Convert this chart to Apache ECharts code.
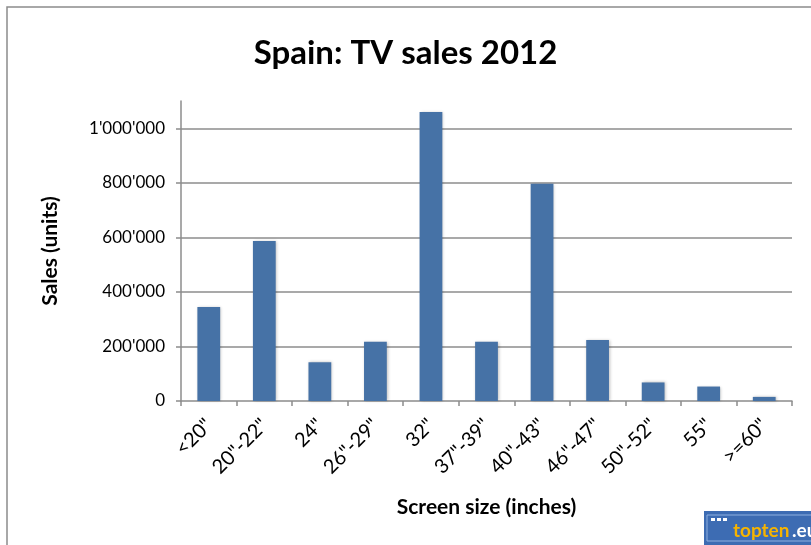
<!DOCTYPE html>
<html>
<head>
<meta charset="utf-8">
<script src="https://cdn.jsdelivr.net/npm/echarts@6/dist/echarts.min.js"></script>
<style>html,body{margin:0;padding:0;background:#fff}#c{width:811px;height:545px}</style>
</head>
<body>
<div id="c"></div>
<script>
const titleText = "Spain: TV sales 2012";
const categories = ['<20"', '20"-22"', '24"', '26"-29"', '32"', '37"-39"', '40"-43"', '46"-47"', '50"-52"', '55"', '>=60"'];
const sales = [345000, 587000, 142000, 217000, 1060000, 217000, 797000, 224000, 68000, 53000, 15000];
const yTicks = [0, 200000, 400000, 600000, 800000, 1000000];
const yName = "Sales (units)";
const xName = "Screen size (inches)";

function fmt(v) {
  return String(Math.round(v)).replace(/\B(?=(\d{3})+(?!\d))/g, "'");
}

const FONT = 'Lato, "Open Sans", sans-serif';
const chart = echarts.init(document.getElementById('c'), null, {renderer: 'canvas'});
chart.setOption({
  backgroundColor: '#fff',
  animation: false,
  title: {
    text: titleText, left: 'center', top: 32,
    textStyle: {fontFamily: FONT, fontSize: 33, fontWeight: 'bold', color: '#000'}
  },
  grid: {left: 181, right: 19, top: 101, bottom: 144, containLabel: false},
  xAxis: {
    type: 'category', data: categories,
    axisLine: {lineStyle: {color: '#8c8c8c', width: 1.5}},
    axisTick: {show: true, length: 5, alignWithLabel: false, lineStyle: {color: '#8c8c8c', width: 1.5}},
    axisLabel: {rotate: 45, margin: 21, interval: 0, color: '#000', fontFamily: FONT, fontSize: 20},
    name: xName, nameLocation: 'middle', nameGap: 96,
    nameTextStyle: {fontFamily: FONT, fontSize: 21, fontWeight: 'bold', color: '#000'}
  },
  yAxis: {
    type: 'value', min: 0, max: 1100000, interval: 200000,
    axisLine: {show: true, lineStyle: {color: '#8c8c8c', width: 1.5}},
    axisTick: {show: true, length: 5, customValues: yTicks, lineStyle: {color: '#8c8c8c', width: 1.5}},
    axisLabel: {customValues: yTicks, margin: 16, color: '#000', fontFamily: FONT, fontSize: 17, formatter: fmt},
    splitLine: {show: false},
    name: yName, nameLocation: 'middle', nameGap: 120, nameRotate: 90,
    nameTextStyle: {fontFamily: FONT, fontSize: 21, fontWeight: 'bold', color: '#000'}
  },
  series: [{
    type: 'bar', data: sales, barWidth: '41%', z: 3,
    itemStyle: {color: '#4672a6', shadowColor: 'rgba(0,0,0,0.25)', shadowBlur: 3, shadowOffsetX: 1, shadowOffsetY: 0},
    markLine: {
      silent: true, symbol: 'none', z: 1,
      label: {show: false},
      lineStyle: {color: '#8c8c8c', width: 1.5, type: 'solid'},
      data: yTicks.filter(v => v > 0).map(v => ({yAxis: v}))
    }
  }],
  graphic: [
    {type: 'rect', shape: {x: 7, y: 7, width: 900, height: 700}, style: {fill: 'none', stroke: '#8c8c8c', lineWidth: 1.5}, z: 0},
    {type: 'group', left: 704, top: 511, children: [
      {type: 'rect', shape: {x: 0, y: 0, width: 120, height: 40}, style: {fill: '#3d6cb3'}},
      {type: 'rect', shape: {x: 3, y: 4, width: 120, height: 26}, style: {fill: 'none', stroke: '#8fb0e0', lineWidth: 1}},
      {type: 'rect', shape: {x: 7, y: 7, width: 4, height: 3}, style: {fill: '#fff'}},
      {type: 'rect', shape: {x: 13, y: 7, width: 4, height: 3}, style: {fill: '#fff'}},
      {type: 'rect', shape: {x: 19, y: 7, width: 4, height: 3}, style: {fill: '#fff'}},
      {type: 'text', style: {x: 29, y: 29, text: 'topten', fill: '#f6b400', font: 'bold 19px ' + FONT, textVerticalAlign: 'bottom'}},
      {type: 'text', style: {x: 88, y: 29, text: '.eu', fill: '#fff', font: 'bold 19px ' + FONT, textVerticalAlign: 'bottom'}}
    ]}
  ]
});
</script>
</body>
</html>
